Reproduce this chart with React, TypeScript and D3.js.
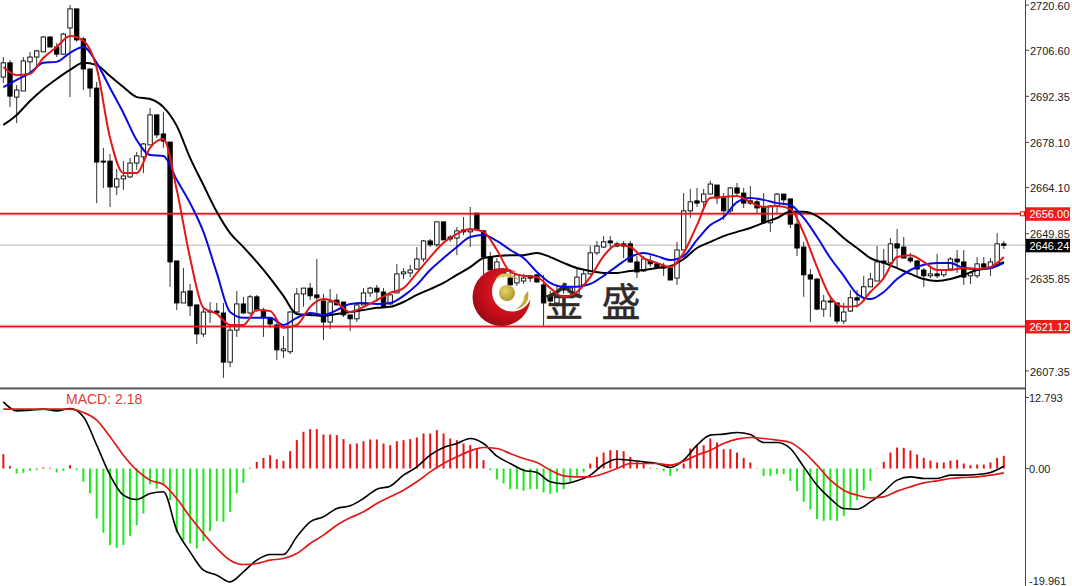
import React, { useEffect } from "react";
import * as d3 from "d3";

// Candles, one entry per bar
const opens = [2698.3,2702.7,2692.1,2694.0,2703.0,2704.5,2706.1,2710.7,2707.6,2705.4,2713.5,2719.4,2710.1,2700.8,2694.9,2672.3,2672.3,2664.3,2666.8,2667.4,2671.7,2673.6,2677.3,2686.6,2680.7,2678.2,2641.4,2628.4,2632.1,2627.8,2618.8,2625.6,2625.9,2625.3,2610.1,2620.0,2628.1,2625.3,2630.3,2626.2,2623.8,2621.6,2613.6,2613.3,2625.6,2631.2,2633.0,2630.9,2629.0,2622.5,2629.3,2628.7,2624.7,2623.5,2627.8,2631.5,2633.0,2631.8,2628.1,2631.5,2637.4,2637.7,2638.9,2642.0,2647.6,2646.4,2653.5,2648.8,2648.5,2651.0,2650.4,2656.2,2650.7,2642.6,2638.6,2638.0,2636.1,2634.6,2635.2,2636.8,2637.1,2634.0,2630.6,2628.4,2633.0,2631.8,2630.3,2634.0,2637.4,2643.9,2645.7,2647.6,2646.7,2646.7,2646.7,2641.1,2638.3,2641.4,2640.5,2639.8,2639.2,2636.1,2644.8,2656.9,2660.0,2659.7,2662.1,2664.9,2660.9,2656.9,2664.0,2662.4,2660.0,2659.7,2658.1,2653.2,2658.4,2662.1,2660.6,2652.8,2645.7,2637.1,2635.8,2626.5,2629.0,2628.4,2622.8,2625.9,2630.0,2630.0,2633.4,2635.2,2641.4,2640.8,2646.7,2645.7,2642.3,2641.4,2638.6,2636.8,2637.4,2637.1,2638.9,2642.0,2641.1,2636.8,2636.8,2640.5,2639.5,2640.2,2646.7];
const highs = [2704.5,2703.6,2695.8,2704.5,2706.1,2706.7,2711.0,2711.0,2708.8,2712.0,2720.6,2719.4,2710.7,2701.1,2696.8,2676.4,2674.5,2669.9,2672.3,2673.3,2675.1,2677.9,2688.7,2686.6,2687.5,2678.2,2641.4,2639.2,2634.3,2627.8,2626.9,2628.7,2628.4,2628.4,2621.9,2632.1,2630.3,2630.9,2630.9,2626.9,2624.1,2622.2,2618.2,2625.9,2633.0,2633.0,2634.6,2642.0,2631.2,2632.7,2631.2,2628.7,2624.7,2628.7,2633.0,2633.4,2634.0,2633.0,2631.2,2640.5,2639.2,2640.2,2645.7,2647.9,2648.2,2653.5,2653.5,2649.4,2651.9,2655.0,2658.1,2656.2,2651.0,2644.2,2642.3,2639.2,2637.7,2637.4,2637.4,2637.1,2637.4,2637.1,2632.1,2633.4,2634.6,2633.4,2639.2,2638.6,2646.0,2647.6,2649.1,2649.1,2647.3,2647.6,2647.6,2642.9,2642.9,2643.2,2641.1,2640.8,2640.2,2647.3,2662.4,2663.7,2664.0,2663.7,2666.2,2664.9,2662.4,2664.3,2665.5,2664.0,2664.6,2660.9,2662.4,2658.7,2662.4,2662.1,2660.6,2656.2,2647.3,2638.9,2636.1,2630.9,2630.3,2628.4,2628.4,2632.4,2632.4,2636.8,2637.7,2646.0,2645.1,2648.5,2651.3,2648.8,2643.9,2641.7,2639.2,2639.5,2643.6,2638.9,2642.6,2644.8,2644.8,2638.0,2642.6,2642.6,2642.3,2650.0,2647.6];
const lows = [2696.5,2689.0,2684.1,2694.0,2699.9,2701.4,2706.1,2707.6,2704.5,2705.1,2692.1,2709.2,2694.3,2692.1,2659.3,2664.0,2658.1,2661.8,2663.4,2667.1,2669.6,2668.6,2677.3,2679.5,2676.4,2633.4,2626.2,2628.4,2624.4,2615.7,2617.9,2622.2,2625.3,2605.2,2608.6,2617.9,2625.0,2624.7,2625.6,2617.9,2620.7,2610.8,2611.4,2612.6,2624.7,2627.2,2629.3,2625.3,2617.0,2620.3,2627.8,2624.1,2619.7,2622.5,2627.8,2630.3,2628.7,2626.9,2627.8,2631.5,2635.8,2636.4,2638.6,2641.1,2645.7,2645.7,2647.9,2647.3,2643.2,2649.4,2645.7,2651.0,2637.1,2638.6,2638.0,2636.4,2633.7,2633.7,2634.3,2634.9,2634.6,2621.0,2627.5,2627.2,2631.2,2630.3,2630.3,2633.4,2637.1,2643.2,2645.4,2644.8,2645.7,2642.3,2640.8,2636.1,2638.0,2639.5,2639.2,2636.8,2635.5,2634.0,2644.8,2654.7,2658.1,2658.1,2662.1,2659.0,2654.1,2656.2,2661.8,2657.8,2658.7,2656.2,2653.2,2650.4,2656.2,2658.7,2651.6,2642.9,2630.3,2622.5,2626.2,2624.1,2624.1,2621.9,2621.9,2625.6,2626.9,2628.7,2633.4,2635.2,2636.4,2640.2,2639.5,2642.3,2640.8,2636.4,2633.4,2636.1,2636.1,2636.4,2638.9,2637.7,2634.0,2634.3,2636.1,2638.6,2636.8,2639.5,2645.1];
const closes = [2702.7,2692.4,2694.3,2703.3,2704.5,2706.4,2710.7,2707.6,2705.4,2711.6,2719.4,2709.8,2700.8,2694.9,2672.0,2672.0,2664.3,2666.8,2667.7,2671.7,2673.9,2677.6,2686.6,2680.4,2678.5,2641.1,2628.4,2631.8,2627.5,2618.8,2625.6,2625.9,2625.3,2610.1,2620.0,2628.1,2625.3,2630.3,2626.2,2624.1,2621.9,2613.9,2614.2,2625.6,2631.2,2633.0,2630.6,2630.0,2622.5,2628.7,2627.8,2624.7,2623.5,2627.8,2631.5,2633.0,2631.8,2627.2,2630.9,2637.4,2638.0,2638.6,2642.0,2647.6,2646.4,2653.5,2647.9,2648.2,2650.7,2650.4,2651.0,2651.0,2642.6,2638.6,2641.1,2637.4,2634.0,2637.1,2636.1,2636.1,2634.9,2628.4,2629.0,2630.3,2632.4,2633.0,2636.4,2637.4,2643.9,2646.0,2647.3,2647.0,2646.0,2646.0,2641.1,2638.0,2642.0,2640.5,2639.5,2639.2,2635.5,2644.8,2656.9,2659.7,2659.3,2662.1,2665.2,2660.9,2656.9,2664.0,2662.4,2659.3,2659.3,2657.8,2653.2,2658.4,2662.1,2660.3,2652.8,2645.4,2637.1,2635.8,2626.5,2629.0,2628.7,2622.8,2625.6,2630.0,2629.3,2633.4,2635.8,2641.1,2640.8,2646.7,2645.4,2642.3,2641.4,2638.9,2636.8,2637.4,2636.8,2638.6,2642.0,2641.1,2636.4,2637.7,2640.5,2639.5,2641.1,2646.7,2646.24];

// Moving averages, read at every second bar
const MA_STEP = 2;
const maFast = [2701.4,2698.9,2699.3,2704.2,2707.6,2711.0,2709.5,2701.1,2679.5,2668.6,2668.6,2676.4,2679.1,2663.4,2642.3,2626.9,2625.0,2621.6,2621.6,2626.2,2625.9,2620.7,2621.6,2627.2,2629.6,2628.4,2625.6,2627.2,2629.3,2631.5,2633.0,2637.7,2642.6,2647.0,2649.8,2651.3,2650.4,2644.8,2638.0,2636.8,2636.4,2633.0,2630.3,2631.8,2636.4,2642.9,2646.4,2645.7,2642.3,2640.8,2639.5,2643.9,2652.5,2660.9,2661.2,2661.5,2659.6,2658.1,2658.4,2657.5,2650.0,2639.5,2630.3,2627.2,2627.5,2631.8,2636.1,2642.6,2643.2,2641.1,2638.6,2638.6,2639.2,2638.9,2639.5,2642.6];
const maMid = [2695.2,2697.4,2699.6,2702.7,2703.0,2705.8,2707.6,2702.7,2694.9,2687.2,2678.8,2674.2,2673.9,2666.5,2659.3,2650.4,2637.7,2625.6,2623.8,2623.8,2623.8,2621.6,2623.8,2625.3,2624.7,2626.2,2628.1,2628.4,2628.1,2628.4,2630.6,2634.0,2638.6,2642.3,2645.7,2648.8,2649.4,2647.6,2644.8,2642.3,2638.0,2634.6,2633.4,2633.4,2634.3,2636.8,2639.8,2642.6,2643.9,2642.9,2641.7,2642.9,2647.9,2652.5,2655.0,2659.6,2660.9,2660.3,2659.3,2658.7,2654.7,2648.8,2642.3,2636.8,2631.2,2629.6,2631.8,2635.8,2638.6,2640.2,2640.8,2640.8,2639.2,2638.9,2639.2,2640.8];
const maSlow = [2683.5,2686.6,2690.9,2694.6,2697.7,2700.5,2702.7,2702.0,2698.6,2695.2,2692.1,2691.5,2689.0,2683.2,2673.3,2664.9,2656.6,2650.0,2645.7,2641.1,2636.1,2630.6,2625.0,2624.7,2624.4,2625.0,2625.6,2626.2,2626.9,2627.2,2628.7,2630.9,2632.7,2634.6,2637.1,2639.5,2642.3,2642.9,2643.2,2643.2,2643.9,2642.6,2640.8,2639.2,2638.3,2637.7,2637.7,2638.3,2638.6,2639.2,2639.8,2642.0,2645.4,2647.3,2649.1,2650.4,2651.6,2653.2,2654.7,2656.6,2656.6,2655.3,2652.2,2648.5,2645.4,2642.3,2640.8,2639.2,2637.4,2635.8,2635.2,2635.8,2637.1,2638.6,2639.2,2641.1];

// MACD panel
const histogram = [2.58,0.42,-0.90,-0.78,-0.42,-0.30,0.18,0.12,-0.72,-0.42,0.60,-0.30,-2.40,-4.50,-9.01,-11.59,-13.81,-14.29,-13.81,-12.13,-10.21,-8.11,-2.82,-3.60,-3.00,-5.71,-11.59,-12.91,-13.51,-14.41,-13.09,-11.29,-9.49,-9.61,-7.81,-4.50,-2.58,0.12,1.20,1.92,2.40,1.68,1.38,3.12,5.11,6.61,7.09,7.09,6.13,6.13,6.01,5.29,4.38,4.50,4.92,5.23,5.23,4.50,4.20,4.92,5.11,5.29,5.59,6.31,6.31,6.91,6.31,5.41,5.11,4.50,4.20,3.60,1.50,-0.30,-1.98,-2.70,-3.72,-3.72,-4.02,-3.72,-3.72,-4.32,-4.56,-4.32,-3.72,-2.40,-1.32,-0.72,0.90,2.10,2.88,3.30,3.30,3.12,2.10,1.20,0.90,0.12,-0.12,-0.48,-1.32,-0.48,0.90,3.60,4.20,4.20,5.41,4.68,3.48,3.48,2.88,1.92,1.08,0.06,-1.32,-1.32,-1.02,-1.02,-2.22,-4.08,-6.01,-7.39,-9.13,-9.43,-9.31,-9.43,-8.53,-7.09,-5.71,-3.90,-2.22,0.06,1.20,2.88,3.78,3.72,3.24,2.52,1.92,1.44,1.08,1.08,1.44,1.56,0.90,0.60,0.72,0.72,1.08,1.92,2.28];
const macdLine = [12.01,10.39,10.51,10.69,10.39,10.81,9.31,4.20,-1.20,-4.80,-5.59,-4.50,-4.20,-11.11,-15.02,-18.32,-19.22,-20.42,-18.62,-16.52,-15.50,-15.50,-12.31,-9.61,-8.71,-7.21,-6.73,-5.41,-3.72,-3.18,-1.20,0.30,2.40,3.78,4.50,5.41,4.50,2.22,0.90,-0.30,-0.72,-2.40,-2.76,-2.22,-1.20,0.72,1.68,1.50,1.20,0.90,0.18,1.50,4.20,6.01,6.19,6.49,6.13,4.68,4.68,3.60,0.30,-3.00,-5.41,-7.21,-7.33,-6.01,-4.20,-2.10,-1.50,-1.80,-1.80,-1.20,-1.20,-1.08,-0.72,0.42];
const signalLine = [10.69,10.69,10.69,10.69,10.69,10.69,10.09,8.71,5.71,2.40,-0.30,-2.10,-2.88,-5.41,-8.71,-11.71,-14.41,-16.52,-17.30,-17.12,-16.52,-16.22,-15.32,-13.51,-12.01,-10.21,-8.89,-7.81,-6.31,-5.11,-3.90,-2.40,-0.60,0.90,2.10,3.18,3.78,3.60,2.70,1.80,1.08,-0.30,-1.32,-1.50,-1.50,-0.90,0,0.90,0.90,0.90,0.60,1.32,2.40,3.30,4.50,5.29,5.59,5.41,5.11,4.68,3.00,0.60,-2.10,-3.90,-4.80,-5.29,-5.11,-4.08,-3.30,-2.58,-2.22,-1.80,-1.62,-1.50,-1.20,-0.78];

// Labels and levels
const priceTicks = [2720.6,2706.6,2692.35,2678.1,2664.1,2649.85,2635.85,2607.35];
const resistance = 2656.0;
const support = 2621.12;
const lastPrice = 2646.24;
const macdTicks = [12.793,0];
const macdLow = -19.961;
const macdValue = "2.18";

const W = 1072, H = 586, AXIS_X = 1025;
const labelFont = "'Liberation Sans', Arial, sans-serif";
const AXIS_FONT = 11;

export default function App() {
  useEffect(() => { document.body.style.margin = "0"; }, []);
  const x = d3.scaleLinear().domain([0, 150]).range([3.33, 1003.8]);
  const y = d3.scaleLinear().domain([2720.6, 2607.35]).range([5, 371]);
  const my = d3.scaleLinear().domain([12.793, 0]).range([397.5, 468.5]);
  const maPath = (vals: number[]) =>
    d3.line<number>().x((_, i) => x(i * MA_STEP)).y((d) => y(d)).curve(d3.curveMonotoneX)(vals) || "";
  const macdPath = (vals: number[]) =>
    d3.line<number>().x((_, i) => x(i * MA_STEP)).y((d) => my(d)).curve(d3.curveMonotoneX)(vals) || "";
  const bw = 4.4;
  const priceTag = (v: number, fill: string) => (
    <g>
      <rect x={AXIS_X + 1} y={y(v) - 6.5} width={44} height={13.5} fill={fill} />
      <text x={1029.5} y={y(v) + 4.3} fontSize={AXIS_FONT} fill="#fff" fontFamily={labelFont}>{v.toFixed(2)}</text>
    </g>
  );
  const level = (v: number) => (
    <g>
      <line x1={0} x2={AXIS_X} y1={y(v)} y2={y(v)} stroke="#e01818" strokeOpacity={0.25} strokeWidth={3.6} />
      <line x1={0} x2={AXIS_X} y1={y(v)} y2={y(v)} stroke="#e01818" strokeWidth={1.6} />
    </g>
  );
  return (
    <svg width={W} height={H} viewBox={`0 0 ${W} ${H}`} style={{ position: "absolute", left: 0, top: 0, display: "block", background: "#fff" }}>
      <defs>
        <radialGradient id="ball" cx="0.62" cy="0.38" r="0.85">
          <stop offset="0" stopColor="#e8262e" />
          <stop offset="0.55" stopColor="#c40d18" />
          <stop offset="1" stopColor="#6d0a0e" />
        </radialGradient>
        <radialGradient id="gold" cx="0.4" cy="0.35" r="0.8">
          <stop offset="0" stopColor="#e6d36a" />
          <stop offset="1" stopColor="#a58a22" />
        </radialGradient>
        <mask id="hole">
          <rect x={460} y={260} width={90} height={80} fill="#fff" />
          <circle cx={512} cy={291.5} r={20} fill="#000" />
        </mask>
      </defs>
      {/* last price line */}
      <line x1={0} x2={AXIS_X} y1={y(lastPrice)} y2={y(lastPrice)} stroke="#cfcfcf" strokeWidth={1.4} />
      {/* candles */}
      {closes.map((c, i) => {
        const o = opens[i];
        const up = c >= o;
        const top = y(Math.max(o, c));
        const bot = y(Math.min(o, c));
        return (
          <g key={i}>
            <line x1={x(i)} x2={x(i)} y1={y(highs[i])} y2={y(lows[i])} stroke="#333" strokeWidth={1} />
            <rect x={x(i) - bw / 2} y={top} width={bw} height={Math.max(bot - top, 1)} fill={up ? "#fff" : "#000"} stroke="#000" strokeWidth={0.9} />
          </g>
        );
      })}
      {/* levels */}
      {level(resistance)}
      {level(support)}
      <rect x={AXIS_X - 4.5} y={y(resistance) - 2} width={4} height={4} fill="#fff" stroke="#e01818" strokeWidth={1} />
      {/* watermark */}
      <circle cx={501.5} cy={297} r={29} fill="url(#ball)" mask="url(#hole)" />
      <circle cx={507} cy={293} r={8} fill="url(#gold)" />
      <path d="M495,279 Q505,267 519,280 Q506,274 495,279 Z" fill="url(#gold)" />
      <path d="M528,291 Q531,305 515,310 Q524,304 524,296 Z" fill="url(#gold)" />
      <text x={564} y={316} fontSize={39} textAnchor="middle" fill="#2f2a2a" stroke="#2f2a2a" strokeWidth={0.5} fontFamily="'Noto Sans CJK SC'">金</text>
      <text x={621} y={316} fontSize={39} textAnchor="middle" fill="#2f2a2a" stroke="#2f2a2a" strokeWidth={0.5} fontFamily="'Noto Sans CJK SC'">盛</text>
      {/* moving averages */}
      <path d={maPath(maSlow)} fill="none" stroke="#000" strokeWidth={2} />
      <path d={maPath(maMid)} fill="none" stroke="#0808e0" strokeWidth={2} />
      <path d={maPath(maFast)} fill="none" stroke="#e01818" strokeWidth={2} />
      {/* panel separator */}
      <rect x={0} y={387} width={AXIS_X} height={1} fill="#a0a0a0" />
      <rect x={0} y={388} width={AXIS_X} height={1} fill="#555" />
      <rect x={0} y={389} width={AXIS_X} height={1} fill="#b8b8b8" />
      {/* MACD */}
      {histogram.map((v, i) => (
        <line key={i} x1={x(i)} x2={x(i)} y1={my(0)} y2={my(v)} stroke={v >= 0 ? "#e81414" : "#1ee81e"} strokeWidth={2} />
      ))}
      <path d={macdPath(macdLine)} fill="none" stroke="#000" strokeWidth={1.6} />
      <path d={macdPath(signalLine)} fill="none" stroke="#e01818" strokeWidth={1.7} />
      <text x={66} y={404} fontSize={14} fill="#e23a3a" fontFamily={labelFont}>MACD:  {macdValue}</text>
      {/* right axis */}
      <line x1={AXIS_X + 0.5} x2={AXIS_X + 0.5} y1={0} y2={H} stroke="#444" strokeWidth={1} />
      {priceTicks.map((t) => (
        <g key={t}>
          <line x1={AXIS_X} x2={AXIS_X + 4} y1={y(t)} y2={y(t)} stroke="#444" />
          <text x={1030} y={y(t) + 4.5} fontSize={AXIS_FONT} fill="#222" fontFamily={labelFont}>{t.toFixed(2)}</text>
        </g>
      ))}
      {priceTag(resistance, "#ee1c1c")}
      {priceTag(support, "#ee1c1c")}
      {priceTag(lastPrice, "#000")}
      {macdTicks.map((t) => (
        <g key={t}>
          <line x1={AXIS_X} x2={AXIS_X + 4} y1={my(t)} y2={my(t)} stroke="#444" />
          <text x={1029} y={my(t) + 4.5} fontSize={AXIS_FONT} fill="#222" fontFamily={labelFont}>{t === 0 ? t.toFixed(2) : t.toFixed(3)}</text>
        </g>
      ))}
      <text x={1029} y={585} fontSize={AXIS_FONT} fill="#222" fontFamily={labelFont}>{macdLow.toFixed(3)}</text>
    </svg>
  );
}
